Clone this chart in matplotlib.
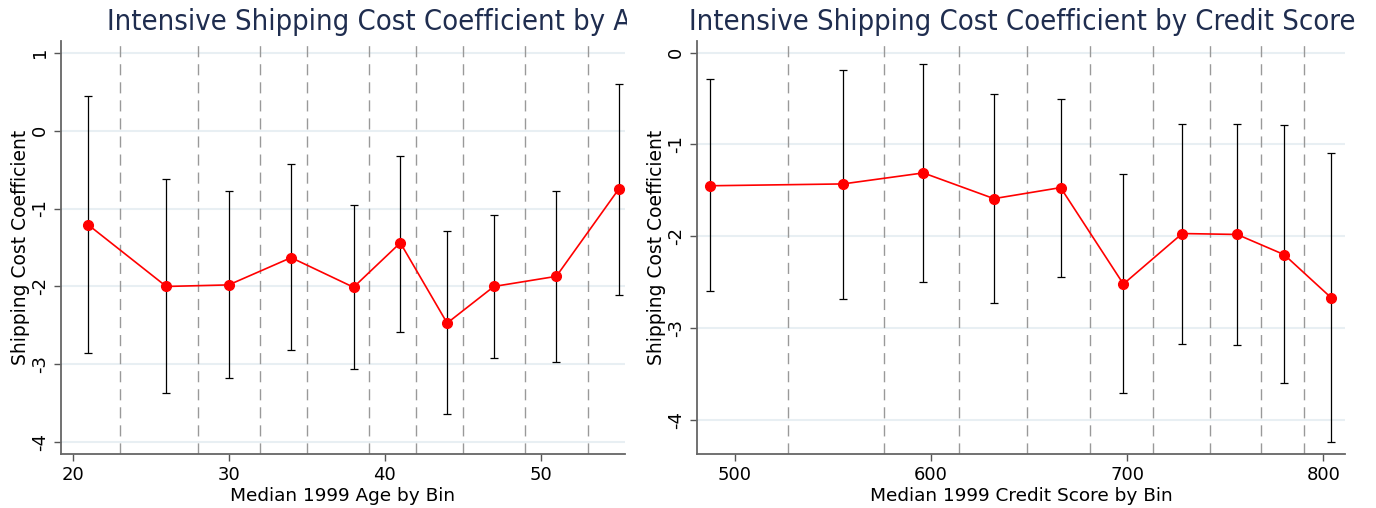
import numpy as np
import matplotlib
matplotlib.use("Agg")
import matplotlib.pyplot as plt
from matplotlib.patches import Rectangle

# ---- data ----
age_x = [21, 26, 30, 34, 38, 41, 44, 47, 51, 55]
age_coef = [-1.21, -2.00, -1.98, -1.63, -2.01, -1.44, -2.47, -2.00, -1.87, -0.75]
age_hi = [0.44, -0.62, -0.77, -0.43, -0.95, -0.32, -1.29, -1.08, -0.77, 0.60]
age_lo = [-2.86, -3.37, -3.17, -2.81, -3.06, -2.58, -3.64, -2.92, -2.97, -2.11]
age_cuts = [23, 28, 32, 35, 39, 42, 45, 49, 53]

cs_x = [487, 555, 596, 632, 666, 698, 728, 756, 780, 804]
cs_coef = [-1.45, -1.43, -1.31, -1.59, -1.47, -2.52, -1.97, -1.98, -2.20, -2.67]
cs_hi = [-0.29, -0.19, -0.12, -0.45, -0.50, -1.32, -0.78, -0.78, -0.79, -1.09]
cs_lo = [-2.60, -2.68, -2.50, -2.73, -2.44, -3.71, -3.17, -3.18, -3.60, -4.24]
cs_cuts = [527, 576, 614, 649, 681, 713, 742, 768, 790]

W, H = 1376, 508
fig = plt.figure(figsize=(W / 100, H / 100), dpi=100)

title_color = "#1f2d4f"
grid_color = "#e8eff3"


def panel(rect, x, coef, lo, hi, cuts, xlim, ylim, yticks, xticks, xlabel):
    ax = fig.add_axes(rect)
    ax.set_xlim(*xlim)
    ax.set_ylim(*ylim)
    for yt in yticks:
        ax.axhline(yt, color=grid_color, lw=1.5, zorder=0)
    for c in cuts:
        ax.axvline(c, color="#999999", lw=1.0, ls=(0, (8, 5)), zorder=1)
    x = np.asarray(x)
    coef = np.asarray(coef)
    yerr = [coef - np.asarray(lo), np.asarray(hi) - coef]
    ax.errorbar(x, coef, yerr=yerr, fmt="none", ecolor="black",
                elinewidth=0.9, capsize=3, capthick=0.9, zorder=2)
    ax.plot(x, coef, color="red", lw=1.2, marker="o", ms=7, zorder=3)
    ax.set_yticks(yticks)
    ax.set_yticklabels([str(v) for v in yticks], rotation=90, va="center")
    ax.set_xticks(xticks)
    ax.tick_params(axis="both", labelsize=13, length=5, width=1,
                   color="#555555")
    for s in ["top", "right"]:
        ax.spines[s].set_visible(False)
    for s in ["left", "bottom"]:
        ax.spines[s].set_color("#666666")
        ax.spines[s].set_linewidth(1.3)
    ax.set_xlabel(xlabel, fontsize=13.3, labelpad=2)
    ax.set_ylabel("Shipping Cost Coefficient", fontsize=13.5, labelpad=1)
    return ax


ax1 = panel([61 / W, 1 - 454 / H, (625 - 61) / W, (454 - 41) / H],
            age_x, age_coef, age_lo, age_hi, age_cuts,
            (19.25, 55.4), (-4.15, 1.15), [-4, -3, -2, -1, 0, 1],
            [20, 30, 40, 50], "Median 1999 Age by Bin")
ax2 = panel([697 / W, 1 - 454 / H, (1345 - 697) / W, (454 - 41) / H],
            cs_x, cs_coef, cs_lo, cs_hi, cs_cuts,
            (480.6, 811), (-4.37, 0.126), [-4, -3, -2, -1, 0],
            [500, 600, 700, 800], "Median 1999 Credit Score by Bin")

# left title is cut off at the panel edge in the reference
t1 = fig.text(107 / W, 1 - 22 / H, "Intensive Shipping Cost Coefficient by Age",
              fontsize=20.9, color=title_color, ha="left", va="center",
              fontstretch="condensed")
t1.set_clip_path(Rectangle((0, 0), 627, H, transform=None))
t1.set_clip_on(True)
fig.text(1022 / W, 1 - 22 / H, "Intensive Shipping Cost Coefficient by Credit Score",
         fontsize=20.9, color=title_color, ha="center", va="center",
         fontstretch="condensed")

fig.savefig("out.png", dpi=100)
